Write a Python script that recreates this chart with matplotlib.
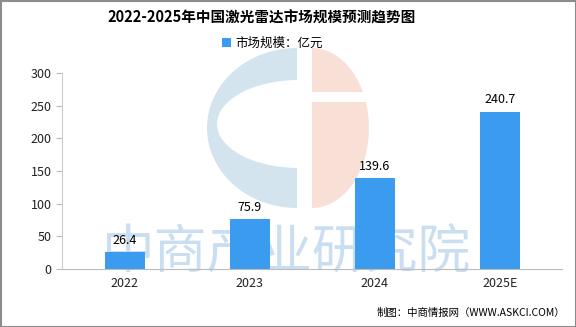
import numpy as np
import matplotlib.pyplot as plt
from matplotlib.patches import Polygon, Ellipse, Rectangle

plt.rcParams['font.family'] = ['Noto Sans CJK SC', 'DejaVu Sans']

# data
years = ['2022', '2023', '2024', '2025E']
market = [26.4, 75.9, 139.6, 240.7]
yticks = [0, 50, 100, 150, 200, 250, 300]

bar_color = '#3A9BEF'


def half_ellipse(cx, cy, a, b, side):
    t = np.linspace(np.pi / 2, 3 * np.pi / 2, 60)
    xs = cx + a * np.cos(t) * (1 if side == 'left' else -1)
    ys = cy + b * np.sin(t)
    return np.column_stack([xs, ys])


fig = plt.figure(figsize=(5.76, 3.27), dpi=100)

# background layer in pixel coords (logo + watermark)
bg = fig.add_axes([0, 0, 1, 1], zorder=0)
bg.set_xlim(0, 576)
bg.set_ylim(327, 0)
bg.axis('off')

bg.add_patch(Polygon(half_ellipse(297, 128, 90, 80, 'left'), color='#D3E4EE', lw=0))
bg.add_patch(Ellipse((299, 124), 164, 88, color='white', lw=0))
bg.add_patch(Polygon(half_ellipse(312, 128, 57, 80, 'right'), color='#F8E0D6', lw=0))
bg.add_patch(Rectangle((310, 92), 65, 10, color='white', lw=0))

bg.text(287, 253, '中商产业研究院', fontsize=38, color='#C9DEF0',
        ha='center', va='center')

# border
bg.add_patch(Rectangle((0.5, 0.5), 575, 326, fill=False, ec='#8C8C8C', lw=1.5))

# main chart
ax = fig.add_axes([0.108, 0.177, 0.868, 0.600], zorder=1)
ax.patch.set_alpha(0)
x = np.arange(len(years))
ax.bar(x, market, width=0.32, color=bar_color, label='市场规模：亿元')

for xi, v in zip(x, market):
    ax.text(xi, v + 8, f'{v}', ha='center', va='bottom', fontsize=9)

ax.set_xlim(-0.5, len(years) - 0.5)
ax.set_ylim(0, 300)
ax.set_yticks(yticks)
ax.set_xticks(x)
ax.set_xticklabels(years)
ax.tick_params(axis='both', labelsize=9, colors='#222222')
ax.tick_params(axis='y', length=4, color='#BBBBBB')
ax.tick_params(axis='x', length=0, pad=6)

for s in ['top', 'right']:
    ax.spines[s].set_visible(False)
ax.spines['left'].set_color('#CCCCCC')
ax.spines['bottom'].set_color('#BBBBBB')

fig.text(0.455, 0.945, '2022-2025年中国激光雷达市场规模预测趋势图',
         ha='center', va='center', fontsize=10.5, fontweight='bold')
fig.legend(loc='center', bbox_to_anchor=(0.473, 0.868), frameon=False,
           fontsize=9, handlelength=0.7, handleheight=0.7, handletextpad=0.4)

fig.text(0.982, 0.042, '制图：中商情报网（WWW.ASKCI.COM）',
         ha='right', va='center', fontsize=7.5)

fig.savefig('out.png', dpi=100)
